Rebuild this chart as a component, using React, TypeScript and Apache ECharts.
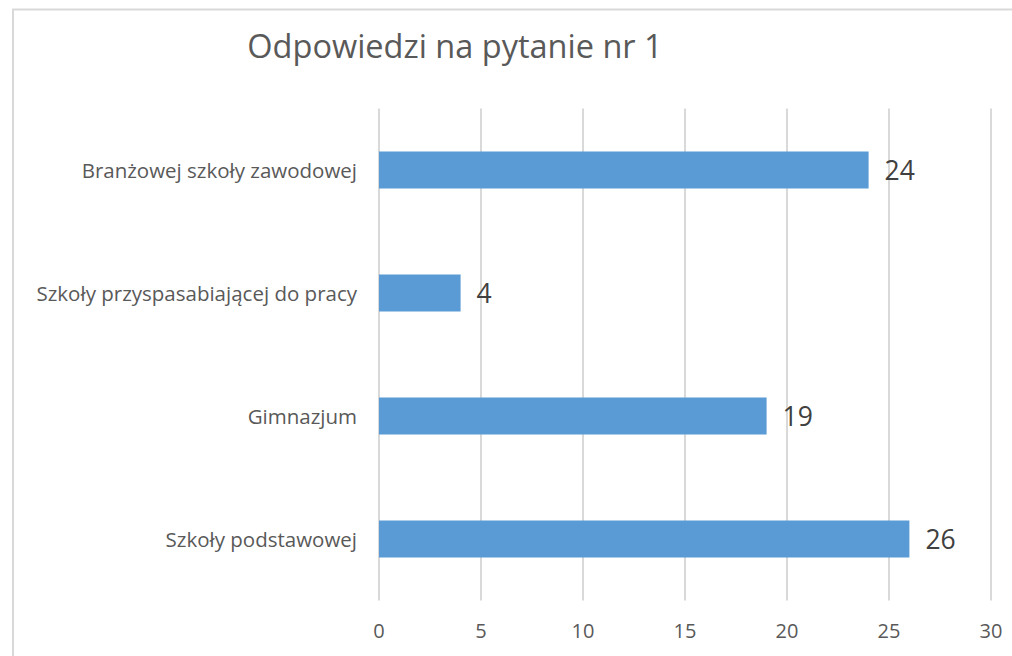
import React, { useEffect, useRef } from "react";
import * as echarts from "echarts";

const categories = [
  "Szkoły podstawowej",
  "Gimnazjum",
  "Szkoły przyspasabiającej do pracy",
  "Branżowej szkoły zawodowej",
];
const values = [26, 19, 4, 24];
const titleText = "Odpowiedzi na pytanie nr 1";

export default function App() {
  const ref = useRef<HTMLDivElement>(null);
  useEffect(() => {
    const chart = echarts.init(ref.current!, null, { renderer: "svg" });
    chart.setOption({
      animation: false,
      backgroundColor: "#ffffff",
      textStyle: { fontFamily: "Open Sans" },
      title: {
        text: titleText,
        left: 450,
        top: 24,
        textAlign: "center",
        textStyle: { fontSize: 32.5, fontWeight: "normal", color: "#595959", fontFamily: "Open Sans" },
      },
      graphic: [
        {
          type: "rect",
          shape: { x: 13, y: 9.5, width: 1100, height: 700 },
          style: { fill: "none", stroke: "#d9d9d9", lineWidth: 2 },
          silent: true,
        },
      ],
      grid: { left: 379, right: 21, top: 108.5, bottom: 55.5, containLabel: false },
      xAxis: {
        type: "value",
        min: 0,
        max: 30,
        interval: 5,
        axisLine: { show: false },
        axisTick: { show: false },
        axisLabel: { fontSize: 20, color: "#595959", margin: 20, fontFamily: "Open Sans" },
        splitLine: { lineStyle: { color: "#d9d9d9", width: 2 } },
      },
      yAxis: {
        type: "category",
        data: categories,
        axisLine: { show: false },
        axisTick: { show: false },
        axisLabel: { fontSize: 20.5, color: "#595959", margin: 22, fontFamily: "Open Sans" },
        splitLine: { show: false },
      },
      series: [
        {
          type: "bar",
          data: values,
          barWidth: 37,
          itemStyle: { color: "#5b9bd5" },
          label: {
            show: true,
            position: "right",
            distance: 16,
            fontSize: 26.5,
            color: "#404040",
            fontFamily: "Open Sans",
          },
        },
      ],
    });
    return () => chart.dispose();
  }, []);
  return <div ref={ref} style={{ position: "absolute", left: 0, top: 0, width: 1012, height: 656 }} />;
}
